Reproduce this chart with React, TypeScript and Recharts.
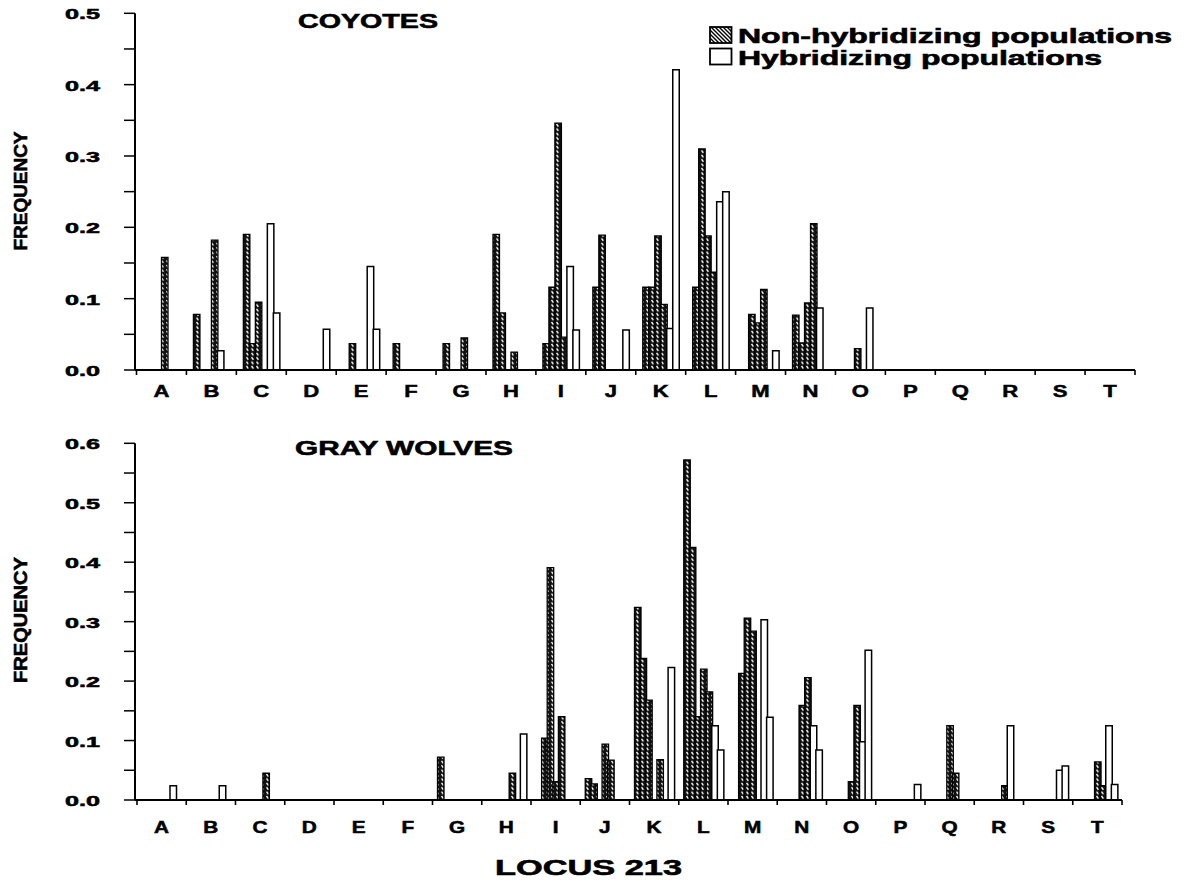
import React from 'react';
import { BarChart, Bar, XAxis, YAxis } from 'recharts';

// Allele bins of locus 213
const BINS = ['A', 'B', 'C', 'D', 'E', 'F', 'G', 'H', 'I', 'J', 'K', 'L', 'M', 'N', 'O', 'P', 'Q', 'R', 'S', 'T'];
const n = null;

// COYOTES: four non-hybridizing populations, two hybridizing populations
const coyoteNH1 = [n, 0.078, 0.19, n, n, 0.037, 0.037, 0.19, 0.037, 0.116, 0.116, 0.116, n, 0.077, n, n, n, n, n, n];
const coyoteNH2 = [n, n, 0.037, n, 0.037, n, n, 0.08, 0.116, 0.189, 0.116, 0.31, 0.078, 0.038, n, n, n, n, n, n];
const coyoteNH3 = [n, n, 0.095, n, n, n, n, n, 0.346, n, 0.188, 0.188, 0.066, 0.094, 0.03, n, n, n, n, n];
const coyoteNH4 = [0.158, 0.182, n, n, n, n, 0.045, 0.025, 0.046, n, 0.092, 0.137, 0.113, 0.205, n, n, n, n, n, n];
const coyoteH1 = [n, 0.027, 0.205, n, 0.145, n, n, n, 0.145, n, 0.058, 0.236, n, 0.087, 0.087, n, n, n, n, n];
const coyoteH2 = [n, n, 0.08, 0.057, 0.057, n, n, n, 0.056, 0.056, 0.421, 0.25, 0.027, n, n, n, n, n, n, n];

// GRAY WOLVES: five non-hybridizing populations, two hybridizing populations
const wolfNH1 = [n, n, n, n, n, n, 0.072, n, n, 0.036, 0.324, 0.572, n, n, n, n, n, n, n, n];
const wolfNH2 = [n, n, n, n, n, n, n, n, 0.104, 0.027, 0.238, 0.425, 0.213, n, n, n, n, n, n, n];
const wolfNH3 = [n, n, n, n, n, n, n, n, 0.391, n, 0.168, 0.14, 0.306, n, n, n, n, n, n, n];
const wolfNH4 = [n, n, n, n, n, n, n, n, 0.031, 0.094, n, 0.22, 0.284, 0.159, 0.031, n, 0.125, n, n, 0.064];
const wolfNH5 = [n, n, 0.045, n, n, n, n, 0.045, 0.14, 0.067, 0.068, 0.182, n, 0.206, 0.159, n, 0.045, 0.024, n, 0.024];
const wolfH1 = [0.024, 0.024, n, n, n, n, n, n, n, n, n, 0.125, 0.303, 0.125, 0.098, n, n, 0.125, 0.05, 0.125];
const wolfH2 = [n, n, n, n, n, n, n, 0.111, n, n, 0.223, 0.084, 0.139, 0.084, 0.252, 0.026, n, n, 0.057, 0.026];

const coyoteTicks = [0, 0.05, 0.1, 0.15, 0.2, 0.25, 0.3, 0.35, 0.4, 0.45, 0.5];
const wolfTicks = [0, 0.05, 0.1, 0.15, 0.2, 0.25, 0.3, 0.35, 0.4, 0.45, 0.5, 0.55, 0.6];

const LEGEND = ['Non-hybridizing populations', 'Hybridizing populations'];

type Series = Record<string, (number | null)[]>;
const makeRows = (series: Series) =>
  BINS.map((bin, i) => {
    const row: Record<string, any> = { bin };
    Object.keys(series).forEach((k) => {
      row[k] = series[k][i];
    });
    return row;
  });

const coyoteSeries: Series = { nh1: coyoteNH1, nh2: coyoteNH2, nh3: coyoteNH3, nh4: coyoteNH4, h1: coyoteH1, h2: coyoteH2 };
const wolfSeries: Series = { nh1: wolfNH1, nh2: wolfNH2, nh3: wolfNH3, nh4: wolfNH4, nh5: wolfNH5, h1: wolfH1, h2: wolfH2 };

const FONT = '"Liberation Sans", Arial, Helvetica, sans-serif';

const YTick = (props: any) => {
  const { x, y, payload } = props;
  const v = payload.value as number;
  const tenth = Math.round(v * 100);
  if (tenth % 10 !== 0) return <g />;
  return (
    <text
      x={x}
      y={y + 1}
      textAnchor="end"
      dominantBaseline="central"
      fontFamily={FONT}
      fontWeight="bold"
      fontSize={14}
      textLength={35}
      lengthAdjust="spacingAndGlyphs"
      fill="#000"
      stroke="#000"
      strokeWidth={0.5}
    >
      {v.toFixed(1)}
    </text>
  );
};

const makeXTick = (bw: number, labelDy: number, fontSize: number) => (props: any) => {
  const { x, y, payload, index } = props;
  const last = index === BINS.length - 1;
  return (
    <g>
      <line x1={x - bw / 2} x2={x - bw / 2} y1={y} y2={y + 5} stroke="#000" strokeWidth={1.6} />
      {last && <line x1={x + bw / 2} x2={x + bw / 2} y1={y} y2={y + 5} stroke="#000" strokeWidth={1.6} />}
      <text
        transform={`translate(${x} ${y + labelDy}) scale(1.3 1)`}
        textAnchor="middle"
        fontFamily={FONT}
        fontWeight="bold"
        fontSize={fontSize}
        fill="#000"
        stroke="#000"
        strokeWidth={0.5}
      >
        {payload.value}
      </text>
    </g>
  );
};

type PanelProps = {
  top: number;
  series: Series;
  nhKeys: string[];
  hKeys: string[];
  ticks: number[];
  max: number;
  right: number;
  padLeft: number;
  barGap: number;
  labelDy: number;
  labelSize: number;
};

const Panel = ({ top, series, nhKeys, hKeys, ticks, max, right, padLeft, barGap, labelDy, labelSize }: PanelProps) => {
  const width = 1184;
  const left = 75;
  const yAxisW = 60;
  const plotW = width - left - yAxisW - right;
  const bw = (plotW - padLeft) / BINS.length;
  const rows = makeRows(series);
  return (
    <div style={{ position: 'absolute', left: 0, top }}>
      <BarChart
        width={width}
        height={420}
        data={rows}
        margin={{ top: 13.3, right, left, bottom: 0 }}
        barSize={6.5}
        barGap={barGap}
      >
        <XAxis
          dataKey="bin"
          type="category"
          interval={0}
          tickLine={false}
          tickSize={0}
          tickMargin={0}
          height={50}
          padding={{ left: padLeft, right: 0 }}
          axisLine={{ stroke: '#000', strokeWidth: 2 }}
          tick={makeXTick(bw, labelDy, labelSize)}
        />
        <YAxis
          type="number"
          domain={[0, max]}
          ticks={ticks}
          interval={0}
          width={yAxisW}
          tickSize={11}
          tickMargin={24}
          axisLine={{ stroke: '#000', strokeWidth: 2 }}
          tickLine={{ stroke: '#000', strokeWidth: 1.5 }}
          tick={<YTick />}
        />
        {nhKeys.map((k) => (
          <Bar key={k} dataKey={k} fill="url(#hatchBar)" stroke="#000" strokeWidth={1.3} isAnimationActive={false} />
        ))}
        {hKeys.map((k) => (
          <Bar key={k} dataKey={k} fill="#fff" stroke="#000" strokeWidth={1.5} isAnimationActive={false} />
        ))}
      </BarChart>
    </div>
  );
};

const boldText = { fontFamily: FONT, fontWeight: 'bold' as const, fill: '#000', stroke: '#000', strokeWidth: 0.6 };

export default function App() {
  return (
    <div style={{ position: 'absolute', left: 0, top: 0, width: 1184, height: 880, background: '#fff', overflow: 'hidden' }}>
      <Panel
        top={0}
        series={coyoteSeries}
        nhKeys={['nh1', 'nh2', 'nh3', 'nh4']}
        hKeys={['h1', 'h2']}
        ticks={coyoteTicks}
        max={0.5}
        right={49}
        padLeft={1.5}
        barGap={-0.5}
        labelDy={27}
        labelSize={17}
      />
      <Panel
        top={430}
        series={wolfSeries}
        nhKeys={['nh1', 'nh2', 'nh3', 'nh4', 'nh5']}
        hKeys={['h1', 'h2']}
        ticks={wolfTicks}
        max={0.6}
        right={62}
        padLeft={2}
        barGap={-0.9}
        labelDy={33}
        labelSize={16}
      />
      <svg width={1184} height={880} style={{ position: 'absolute', left: 0, top: 0, pointerEvents: 'none' }}>
        <defs>
          <pattern id="hatchBar" patternUnits="userSpaceOnUse" width="5" height="4.4">
            <rect width="5" height="4.4" fill="#111" />
            <path d="M1.5,0.8 L3.4,3.3" stroke="#fff" strokeWidth="1.4" />
          </pattern>
          <pattern id="hatchLegend" patternUnits="userSpaceOnUse" width="4" height="4">
            <rect width="4" height="4" fill="#fff" />
            <path d="M-1,-1 L5,5 M-1,3 L1,5 M3,-1 L5,1" stroke="#000" strokeWidth="1.4" />
          </pattern>
        </defs>
        <text x={298} y={28.3} fontSize={21} textLength={140} lengthAdjust="spacingAndGlyphs" {...boldText}>
          COYOTES
        </text>
        <text x={295} y={454.5} fontSize={21} textLength={218} lengthAdjust="spacingAndGlyphs" {...boldText}>
          GRAY WOLVES
        </text>
        <rect x={710} y={27} width={21.5} height={16} fill="url(#hatchLegend)" stroke="#000" strokeWidth={1.8} />
        <rect x={710} y={48.5} width={21.5} height={16} fill="#fff" stroke="#000" strokeWidth={1.8} />
        <text x={738} y={42.5} fontSize={20} textLength={434} lengthAdjust="spacingAndGlyphs" {...boldText}>
          {LEGEND[0]}
        </text>
        <text x={738} y={64.5} fontSize={20} textLength={364} lengthAdjust="spacingAndGlyphs" {...boldText}>
          {LEGEND[1]}
        </text>
        <text transform="translate(26.7 191) rotate(-90)" textAnchor="middle" fontSize={18} textLength={119} lengthAdjust="spacingAndGlyphs" {...boldText}>
          FREQUENCY
        </text>
        <text transform="translate(26.7 620) rotate(-90)" textAnchor="middle" fontSize={18} textLength={126} lengthAdjust="spacingAndGlyphs" {...boldText}>
          FREQUENCY
        </text>
        <text x={495} y={875} fontSize={22} textLength={187} lengthAdjust="spacingAndGlyphs" {...boldText}>
          LOCUS 213
        </text>
      </svg>
    </div>
  );
}
